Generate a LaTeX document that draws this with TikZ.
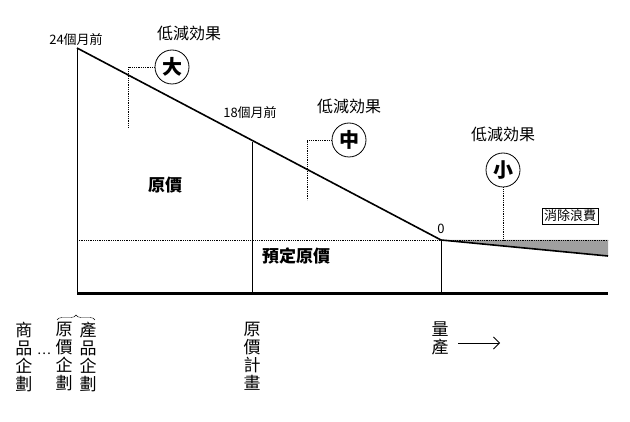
\documentclass[tikz,border=0pt]{standalone}
\usepackage{fontspec}
\setmainfont{Noto Sans CJK TC}
\usetikzlibrary{decorations.pathreplacing,arrows.meta}
\tikzset{lbl/.style={font=\fontsize{13}{14}\selectfont,inner sep=0pt},
 eff/.style={font=\fontsize{16}{18}\selectfont,inner sep=0pt},
 big/.style={font=\fontsize{17}{18}\selectfont\bfseries,inner sep=0pt},
 vert/.style={font=\fontsize{17}{18}\selectfont,align=center,anchor=north,inner sep=0pt},
 circ/.style={circle,draw,thick,minimum size=34pt,inner sep=0pt,font=\fontsize{20}{22}\selectfont\bfseries},
 lead/.style={densely dotted,thick},
 main/.style={line width=1.6pt}}
\begin{document}
\begin{tikzpicture}[x=1pt,y=-1pt]
\useasboundingbox (0,0) rectangle (630,422);
\coordinate (a) at (77,48); \coordinate (b) at (252,142); \coordinate (c) at (441,240); \coordinate (d) at (608,256);
\coordinate (e) at (608,240); \coordinate (s) at (77,240);
\fill[gray!75] (c) -- (e) -- (d) -- cycle;
\draw[main] (a) -- (c) -- (d);
\draw[lead] (s) -- (e);
\draw[main,line width=3pt] (77,294) -- (608,294);
\draw (a) -- (77,294); \draw (b) -- (252,294); \draw (c) -- (441,294);
\node[lbl] (t24) at (76,40) {24個月前};
\node[lbl] (t18) at (250,113) {18個月前};
\node[lbl] (t0) at (441,229) {0};
\node[eff] (e1) at (189,33) {低減効果};
\node[circ] (c1) at (172,67) {大};
\draw[lead] (c1.west) -- (128,67) -- (128,128);
\node[eff] (e2) at (349,106) {低減効果};
\node[circ] (c2) at (349,140) {中};
\draw[lead] (c2.west) -- (307,140) -- (307,200);
\node[eff] (e3) at (503,134) {低減効果};
\node[circ] (c3) at (503,170) {小};
\draw[lead] (c3.south) -- (503,240);
\node[draw,eff,font=\fontsize{13}{14}\selectfont,inner sep=2pt] (w) at (570,216) {消除浪費};
\node[big] (g1) at (165,185) {原價};
\node[big] (g2) at (296,256) {預定原價};
\node[vert] (v1) at (24,322) {商\\品\\企\\劃};
\node[vert] (v2) at (64,322) {原\\價\\企\\劃};
\node[vert] (v3) at (88,322) {產\\品\\企\\劃};
\node[lbl] (dots) at (44,354) {…};
\draw[decorate,decoration={brace,amplitude=5pt}] (57,320) -- (95,320);
\node[vert] (v4) at (252,322) {原\\價\\計\\畫};
\node[vert] (v5) at (440,322) {量\\產};
\draw[thick,-{Straight Barb[length=6pt]}] (458,343) -- (500,343);
\end{tikzpicture}
\end{document}
